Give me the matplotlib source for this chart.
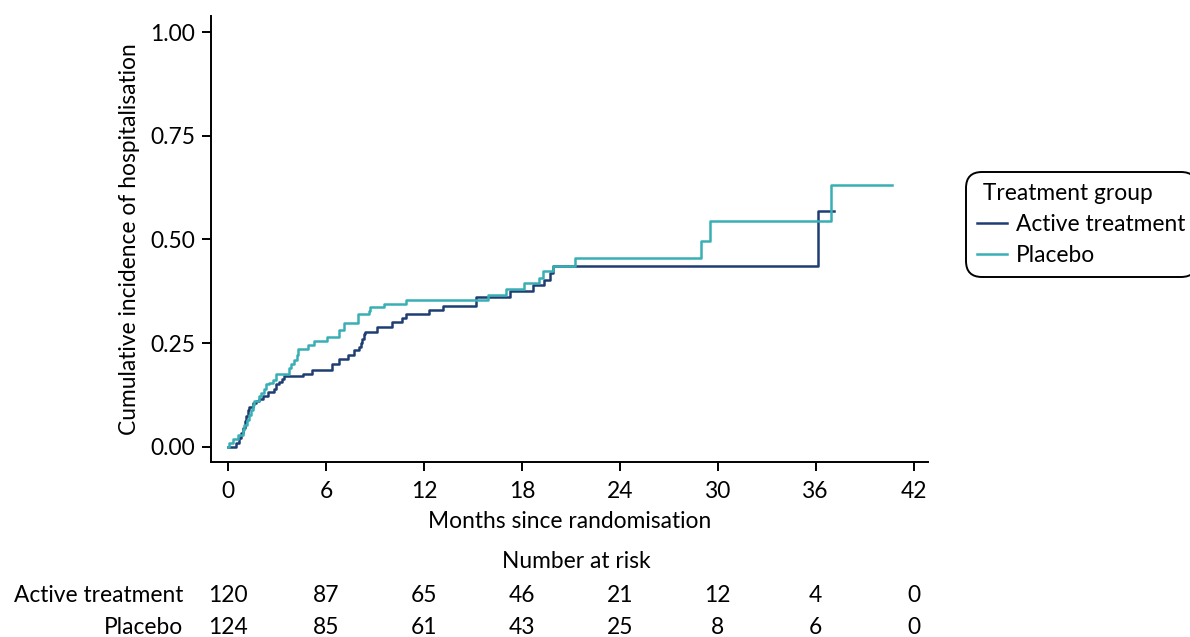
"""Cumulative incidence of hospitalisation by treatment group, with number at risk."""

from __future__ import annotations

import matplotlib

matplotlib.use("Agg")
import matplotlib.pyplot as plt
from matplotlib.lines import Line2D
from matplotlib.transforms import blended_transform_factory

# Step curves: time of each step (months) and cumulative incidence after it
ACTIVE_TIMES = [
    0, 0.47, 0.67, 0.78, 0.88, 1.02, 1.08, 1.19, 1.29, 1.49, 1.70, 1.90, 2.11,
    2.41, 2.82, 2.92, 3.13, 3.27, 3.39, 4.56, 5.11, 6.34, 6.81, 7.32, 7.73,
    8.03, 8.14, 8.20, 8.30, 8.40, 9.12, 10.04, 10.65, 10.89, 12.32, 13.18,
    15.19, 17.27, 18.70, 19.37, 19.72, 19.89, 36.13,
]
ACTIVE_INCIDENCE = [
    0, 0.009, 0.021, 0.033, 0.045, 0.061, 0.073, 0.089, 0.096, 0.105, 0.109,
    0.115, 0.122, 0.131, 0.138, 0.150, 0.156, 0.164, 0.170, 0.176, 0.186,
    0.200, 0.212, 0.222, 0.232, 0.240, 0.250, 0.260, 0.271, 0.277, 0.288,
    0.300, 0.311, 0.319, 0.329, 0.340, 0.360, 0.375, 0.389, 0.403, 0.420,
    0.435, 0.568,
]
ACTIVE_LAST_FOLLOWUP = 37.11

PLACEBO_TIMES = [
    0, 0.06, 0.27, 0.57, 0.88, 0.98, 1.14, 1.29, 1.39, 1.49, 1.59, 1.90, 2.00,
    2.21, 2.31, 2.51, 2.72, 2.92, 3.74, 3.84, 4.05, 4.21, 4.29, 4.86, 5.27,
    6.05, 6.81, 7.11, 7.93, 8.60, 8.71, 9.52, 10.89, 15.90, 17.02, 18.15,
    19.03, 19.31, 19.89, 21.22, 28.98, 29.55, 36.91,
]
PLACEBO_INCIDENCE = [
    0, 0.009, 0.019, 0.027, 0.041, 0.053, 0.065, 0.077, 0.089, 0.101, 0.109,
    0.122, 0.130, 0.139, 0.150, 0.154, 0.162, 0.176, 0.190, 0.200, 0.210,
    0.222, 0.236, 0.246, 0.254, 0.264, 0.281, 0.299, 0.319, 0.327, 0.337,
    0.345, 0.355, 0.367, 0.381, 0.394, 0.407, 0.423, 0.437, 0.455, 0.496,
    0.545, 0.632,
]
PLACEBO_LAST_FOLLOWUP = 40.69

RISK_TIMES = [0, 6, 12, 18, 24, 30, 36, 42]
ACTIVE_AT_RISK = [120, 87, 65, 46, 21, 12, 4, 0]
PLACEBO_AT_RISK = [124, 85, 61, 43, 25, 8, 6, 0]

GROUP_LABELS = ["Active treatment", "Placebo"]
GROUP_COLOURS = ["#1f3d72", "#38afb4"]

WIDTH_PX, HEIGHT_PX = 1190, 637
FONT_SIZE = 16.4
LINE_WIDTH = 1.8

plt.rcParams["font.family"] = ["Lato", "DejaVu Sans"]


def fx(px: float) -> float:
    return px / WIDTH_PX


def fy(py: float) -> float:
    return 1 - py / HEIGHT_PX


def _step_curve(ax, times, values, last_time, colour):
    xs = list(times) + [last_time]
    ys = list(values) + [values[-1]]
    ax.step(xs, ys, where="post", color=colour, linewidth=LINE_WIDTH)


fig = plt.figure(figsize=(WIDTH_PX / 100, HEIGHT_PX / 100), dpi=100)
ax = fig.add_axes([fx(211), fy(462), fx(928) - fx(211), fy(16) - fy(462)])

_step_curve(ax, ACTIVE_TIMES, ACTIVE_INCIDENCE, ACTIVE_LAST_FOLLOWUP, GROUP_COLOURS[0])
_step_curve(ax, PLACEBO_TIMES, PLACEBO_INCIDENCE, PLACEBO_LAST_FOLLOWUP, GROUP_COLOURS[1])

ax.set_xlim(-1.06, 42.88)
ax.set_ylim(-0.037, 1.039)
ax.set_xticks(RISK_TIMES)
ax.set_yticks([0, 0.25, 0.5, 0.75, 1.0], labels=["0.00", "0.25", "0.50", "0.75", "1.00"])
ax.spines[["top", "right"]].set_visible(False)
for side in ("left", "bottom"):
    ax.spines[side].set_linewidth(1.4)
ax.tick_params(length=6.5, width=1.4, labelsize=FONT_SIZE, colors="black")
ax.tick_params(axis="x", pad=7)
ax.tick_params(axis="y", pad=5)
ax.set_xlabel("Months since randomisation", fontsize=FONT_SIZE, labelpad=7)
ax.set_ylabel("Cumulative incidence of hospitalisation", fontsize=FONT_SIZE, labelpad=7)

handles = [Line2D([], [], color=c, linewidth=LINE_WIDTH) for c in GROUP_COLOURS]
legend = ax.legend(
    handles,
    GROUP_LABELS,
    title=" Treatment group",
    loc="upper left",
    bbox_to_anchor=(fx(966), fy(172)),
    bbox_transform=fig.transFigure,
    fontsize=FONT_SIZE,
    title_fontsize=FONT_SIZE,
    frameon=True,
    fancybox=True,
    edgecolor="black",
    handlelength=1.3,
    handletextpad=0.4,
    labelspacing=0.42,
    borderpad=0.5,
    borderaxespad=0,
    alignment="left",
)
legend._legend_box.sep = 7
frame = legend.get_frame()
frame.set_linewidth(1.4)
frame.set_alpha(1)
frame.set_boxstyle("round,pad=0,rounding_size=0.7")

# Number-at-risk table below the axis, aligned with the x ticks
risk_transform = blended_transform_factory(ax.transData, fig.transFigure)
fig.text(fx(576), fy(561), "Number at risk", ha="center", va="center", fontsize=FONT_SIZE)
for label, counts, row_y in zip(GROUP_LABELS, [ACTIVE_AT_RISK, PLACEBO_AT_RISK], [595, 628]):
    fig.text(fx(183), fy(row_y), label, ha="right", va="center", fontsize=FONT_SIZE)
    for time, count in zip(RISK_TIMES, counts):
        ax.text(time, fy(row_y), str(count), transform=risk_transform,
                ha="center", va="center", fontsize=FONT_SIZE, clip_on=False)

fig.savefig("out.png", dpi=100)
plt.close(fig)
